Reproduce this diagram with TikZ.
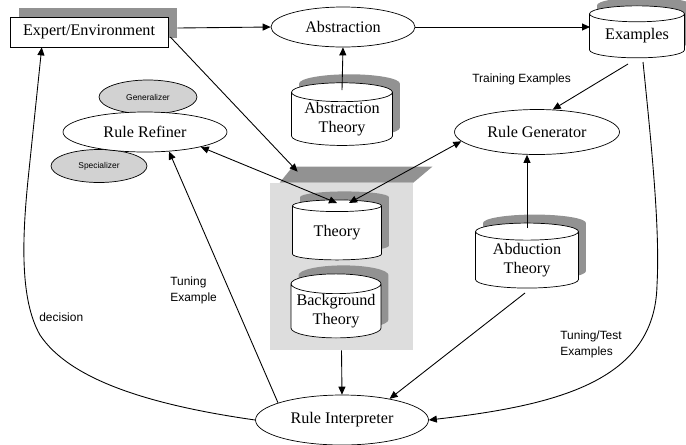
\documentclass[tikz,border=0pt]{standalone}
\usepackage{fontspec}
\setmainfont{Liberation Serif}
\newfontfamily\lblfont{Liberation Sans}
\usetikzlibrary{positioning, shapes.geometric, arrows.meta, calc, shadows}
\definecolor{shadedark}{HTML}{929292}
\definecolor{shadelight}{HTML}{DDDDDD}
\definecolor{subgray}{HTML}{D2D2D2}

\begin{document}
\begin{tikzpicture}[x=0.02cm, y=-0.02cm,
    proc/.style={ellipse, draw, fill=white, inner sep=0pt,
                 font=\fontsize{9.2}{11}\selectfont},
    store/.style={cylinder, shape border rotate=90, aspect=0.25, draw, fill=white,
                  inner sep=0pt, align=center, font=\fontsize{9.2}{11}\selectfont,
                  general shadow={shadow xshift=0.15cm, shadow yshift=0.17cm, fill=shadedark}},
    ext/.style={rectangle, draw, fill=white, inner sep=0pt,
                font=\fontsize{9.2}{11}\selectfont,
                general shadow={shadow xshift=0.18cm, shadow yshift=0.18cm, fill=shadedark}},
    sub/.style={ellipse, draw, fill=subgray, inner sep=0pt,
                font=\lblfont\fontsize{4.8}{5}\selectfont},
    edg/.style={draw, line width=0.5pt, -{Triangle[length=1.6mm, width=1.4mm]}},
    biedg/.style={draw, line width=0.5pt, {Triangle[length=1.6mm, width=1.4mm]}-{Triangle[length=1.6mm, width=1.4mm]}},
    lbl/.style={inner sep=0pt, anchor=west, align=left,
                font=\lblfont\fontsize{6.8}{9}\selectfont}]
    \useasboundingbox (0,0) rectangle (686,444);
    % theory block
    \node[rectangle, fill=shadelight, minimum width=2.86cm, minimum height=3.34cm] (kb) at (341.5,266.5) {};
    \fill[shadedark] ($(kb.north west)+(10,0)$) -- ($(kb.north west)+(23,-16)$)
        -- ($(kb.north east)+(19,-16)$) -- (kb.north east) -- cycle;
    % nodes
    \node[ext, minimum width=3.16cm, minimum height=0.6cm] (expert) at (89,32) {Expert/Environment};
    \node[proc, minimum width=2.88cm, minimum height=0.8cm] (abstr) at (343,27) {Abstraction};
    \node[store, minimum width=2.02cm, minimum height=1.16cm] (absth) at (342,119) {Abstraction\\Theory};
    \node[store, minimum width=1.9cm, minimum height=1.04cm] (ex) at (637,36) {Examples};
    \node[proc, minimum width=3.3cm, minimum height=0.9cm] (gen) at (537,132) {Rule Generator};
    \node[sub, minimum width=1.96cm, minimum height=0.68cm] (gener) at (148,97) {Generalizer};
    \node[sub, minimum width=1.92cm, minimum height=0.66cm] (spec) at (99,166) {Specializer};
    \node[proc, minimum width=3.28cm, minimum height=0.8cm] (refiner) at (145,132) {Rule Refiner};
    \node[store, minimum width=1.78cm, minimum height=1.2cm] (theory) at (337,233) {Theory};
    \node[store, minimum width=1.8cm, minimum height=1.26cm] (bgth) at (336,311) {Background\\Theory};
    \node[store, minimum width=2.06cm, minimum height=1.3cm] (abduct) at (527,260) {Abduction\\Theory};
    \node[proc, minimum width=3.46cm, minimum height=1.0cm] (interp) at (342,420) {Rule Interpreter};
    % labels
    \node[lbl] (trainlbl) at (472,79) {Training Examples};
    \node[lbl] (testlbl) at (560,344) {Tuning/Test\\Examples};
    \node[lbl] (tunelbl) at (170,290) {Tuning\\Example};
    \node[lbl] (declbl) at (39,317) {decision};
    % connectors
    \draw[edg] ($(expert.east)+(9,-4)$) -- (abstr.west);
    \draw[edg] (abstr.east) -- ($(abstr.east -| ex.center)+(-47,0)$);
    \draw[edg] ($(absth.center)+(0,-29)$) -- (abstr.south);
    \draw[edg] ($(expert.east)+(2,5)$) -- ($(kb.north west)+(28,-11)$);
    \draw[biedg] (refiner.-15) -- ($(theory.center)+(0,-30)$);
    \draw[biedg] (gen.187) -- ($(theory.center)+(12,-30)$);
    \draw[edg] ($(ex.center)+(-9,28)$) -- (gen.55);
    \draw[edg] ($(abduct.center)+(0,-32)$) -- (abduct.center |- gen.south);
    \draw[edg] ($(abduct.center)+(-2,33)$) -- (interp.24);
    \draw[edg] (kb.south) -- (interp.north);
    \draw[edg] ($(ex.center)+(6,26)$) .. controls (652,150) and (660,230) .. (657,285)
        .. controls (655,380) and (560,405) .. (interp.east);
    \draw[edg] (interp.165) -- (refiner.-39);
    \draw[edg] (interp.west) .. controls (150,405) and (70,380) .. (40,335)
        .. controls (20,300) and (22,240) .. (28,180) -- (expert.198);
\end{tikzpicture}
\end{document}
